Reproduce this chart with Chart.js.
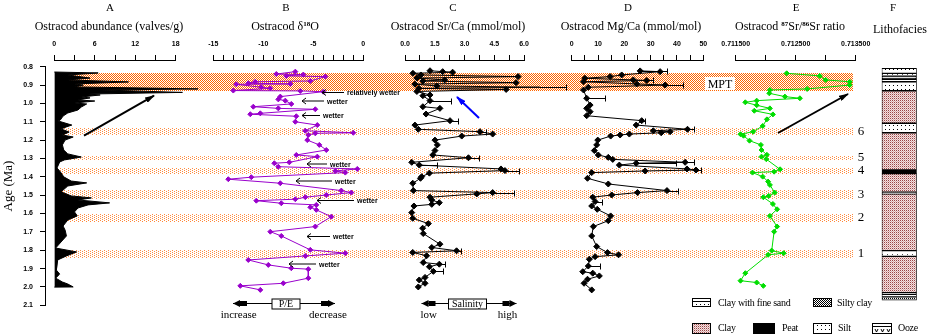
<!DOCTYPE html>
<html>
<head>
<meta charset="utf-8">
<script src="https://cdn.jsdelivr.net/npm/chart.js@4.4.1/dist/chart.umd.min.js"></script>
<style>
html, body { margin: 0; padding: 0; background: #fff; }
#wrap { position: relative; width: 930px; height: 336px; overflow: hidden; font-family: 'Liberation Serif', serif; color: #000; }
#wrap canvas { position: absolute; left: 0; top: 0; }
.t { position: absolute; transform: translateX(-50%); white-space: nowrap; line-height: 12px; }
.t sup { font-size: 7px; line-height: 0; vertical-align: 4px; font-weight: bold; }
#notes { position: absolute; left: 0; top: 0; }
</style>
</head>
<body>
<div id="wrap">
  <canvas id="bg" width="930" height="336"></canvas>
  <canvas id="cA" width="930" height="336"></canvas>
  <canvas id="cB" width="930" height="336"></canvas>
  <canvas id="cC" width="930" height="336"></canvas>
  <canvas id="cD" width="930" height="336"></canvas>
  <canvas id="cE" width="930" height="336"></canvas>
  <canvas id="cF" width="930" height="336"></canvas>

  <div class="t" style="left:110px;top:1px;font-size:11px">A</div>
  <div class="t" style="left:286px;top:1px;font-size:11px">B</div>
  <div class="t" style="left:453px;top:1px;font-size:11px">C</div>
  <div class="t" style="left:628px;top:1px;font-size:11px">D</div>
  <div class="t" style="left:796px;top:1px;font-size:11px">E</div>
  <div class="t" style="left:893px;top:1px;font-size:11px">F</div>

  <div class="t" style="left:109px;top:20px;font-size:12px">Ostracod abundance (valves/g)</div>
  <div class="t" style="left:285px;top:20px;font-size:12px">Ostracod δ<sup>18</sup>O</div>
  <div class="t" style="left:458px;top:20px;font-size:12px">Ostracod Sr/Ca (mmol/mol)</div>
  <div class="t" style="left:631px;top:20px;font-size:12px">Ostracod Mg/Ca (mmol/mol)</div>
  <div class="t" style="left:790px;top:20px;font-size:12px">Ostracod <sup>87</sup>Sr/<sup>86</sup>Sr ratio</div>
  <div class="t" style="left:900px;top:23px;font-size:12px">Lithofacies</div>

  <svg id="notes" width="930" height="336" viewBox="0 0 930 336"></svg>
</div>

<script>
// ---------------- data ----------------
const ageTicks = [0.8, 0.9, 1.0, 1.1, 1.2, 1.3, 1.4, 1.5, 1.6, 1.7, 1.8, 1.9, 2.0, 2.1];

// A: ostracod abundance (valves/g)
const abundAge = [0.829, 0.834, 0.845, 0.862, 0.872, 0.883, 0.894, 0.900, 0.910, 0.921, 0.927, 0.932, 0.940, 0.949, 0.954, 0.965, 0.970, 0.981, 0.987, 0.998,
  1.003, 1.020, 1.036, 1.052, 1.069, 1.090, 1.096, 1.118, 1.128, 1.139, 1.156, 1.172, 1.183, 1.200, 1.226, 1.254, 1.275, 1.292, 1.308, 1.319,
  1.352, 1.373, 1.400, 1.423, 1.433, 1.450, 1.482, 1.504, 1.515, 1.526, 1.542, 1.553, 1.570, 1.591, 1.613, 1.635, 1.668, 1.690, 1.722, 1.755,
  1.788, 1.809, 1.831, 1.853, 1.886, 1.908, 1.930, 1.952, 1.973, 1.984, 2.000, 2.001];
const abundVal = [0, 6.5, 2, 5.3, 2, 11, 3, 4.3, 3, 21.3, 7, 11.7, 19, 5, 6.8, 4, 5.3, 3.5, 6, 3,
  4.8, 4, 3.5, 2, 1.3, 0.9, 0.6, 2.6, 1.8, 1, 2.2, 1.2, 2.8, 1.6, 1.2, 1.4, 2, 4, 1.5, 0.8,
  0.4, 0.9, 1.4, 2.5, 4.8, 2, 1, 2.5, 5.5, 3.5, 8.2, 5, 3.5, 3, 3.4, 2, 1.3, 1.6, 1.8, 1,
  0.2, 3.3, 1.8, 0.5, 0.4, 0.3, 0.8, 0.2, 1.2, 2, 2.8, 0];

// B: ostracod d18O
const d18oAge = [0.827, 0.840, 0.843, 0.850, 0.854, 0.878, 0.882, 0.890, 0.894, 0.896, 0.912, 0.918, 0.930, 0.932, 0.936, 0.963, 0.978, 0.985, 1.003, 1.018,
  1.027, 1.032, 1.054, 1.059, 1.070, 1.100, 1.118, 1.149, 1.160, 1.163, 1.172, 1.200, 1.226, 1.254, 1.281, 1.290, 1.321, 1.326, 1.345, 1.357,
  1.368, 1.377, 1.402, 1.413, 1.435, 1.475, 1.486, 1.499, 1.511, 1.522, 1.530, 1.544, 1.553, 1.566, 1.580, 1.617, 1.671, 1.699, 1.722, 1.798,
  1.816, 1.831, 1.853, 1.880, 1.898, 1.903, 1.952, 1.980, 1.994, 2.016];
const d18oVal = [-6.8, -8.7, -6.0, -7.7, -3.8, -5.3, -10.8, -11.5, -7.3, -12.7, -10.2, -9.3, -13.0, -6.3, -4.0, -8.3, -8.5, -7.8, -7.2, -11.0,
  -8.5, -4.8, -10.3, -11.3, -6.7, -6.8, -4.6, -5.8, -1.0, -4.8, -5.5, -5.6, -4.4, -3.7, -6.7, -4.6, -7.4, -8.9, -8.5, -0.6,
  -2.8, -1.8, -11.2, -13.5, -8.3, -2.2, -1.2, -3.7, -5.8, -6.8, -10.7, -8.2, -4.7, -5.3, -4.7, -3.2, -4.8, -9.3, -8.2, -5.3,
  -1.8, -5.8, -11.5, -9.5, -7.2, -5.5, -5.5, -8.0, -12.3, -10.3];

// C: Sr/Ca (mmol/mol)
const srcaAge = [0.822, 0.827, 0.830, 0.836, 0.845, 0.854, 0.862, 0.872, 0.878, 0.887, 0.895, 0.905, 0.912, 0.918, 0.924, 0.935, 0.954, 0.958, 0.985, 1.018,
  1.027, 1.058, 1.094, 1.118, 1.141, 1.154, 1.167, 1.178, 1.200, 1.226, 1.257, 1.281, 1.296, 1.321, 1.336, 1.357, 1.366, 1.380, 1.399, 1.408,
  1.435, 1.475, 1.486, 1.493, 1.511, 1.526, 1.541, 1.550, 1.559, 1.595, 1.626, 1.655, 1.680, 1.709, 1.767, 1.785, 1.803, 1.812, 1.830, 1.867,
  1.876, 1.890, 1.915, 1.948, 1.962, 1.980, 2.000];
const srcaVal = [1.26, 1.9, 2.4, 0.4, 0.8, 5.7, 0.6, 2.0, 0.9, 5.6, 0.5, 1.6, 6.8, 0.7, 5.1, 0.6, 1.26, 0.9, 1.26, 0.9,
  1.76, 1.06, 2.27, 0.5, 0.67, 3.78, 4.42, 2.86, 1.51, 1.63, 1.51, 1.4, 3.2, 0.34, 0.72, 4.84, 5.04, 1.23, 0.84, 0.78,
  0.39, 0.42, 4.42, 3.62, 1.26, 1.35, 1.73, 1.35, 0.45, 0.34, 0.39, 1.18, 0.89, 0.92, 1.76, 1.35, 2.6, 0.39, 1.09, 0.92,
  1.73, 1.23, 1.43, 1.01, 0.72, 1.01, 0.67];
const srcaErrAt = [0.912, 0.985, 1.094, 1.154, 1.296, 1.336, 1.366, 1.486, 1.803, 1.876, 1.915];
const srcaErrHi = [8.1, 2.3, 2.67, 4.1, 3.75, 1.6, 5.76, 5.5, 2.8, 2.0, 1.9];

// D: Mg/Ca (mmol/mol)
const mgcaAge = [0.823, 0.827, 0.845, 0.854, 0.863, 0.872, 0.875, 0.882, 0.894, 0.900, 0.912, 0.927, 0.972, 1.009, 1.027, 1.045, 1.067, 1.094, 1.118, 1.141,
  1.149, 1.154, 1.160, 1.167, 1.172, 1.178, 1.200, 1.226, 1.257, 1.281, 1.294, 1.305, 1.321, 1.326, 1.336, 1.357, 1.363, 1.368, 1.377, 1.408,
  1.439, 1.475, 1.486, 1.499, 1.511, 1.535, 1.559, 1.577, 1.613, 1.639, 1.671, 1.722, 1.780, 1.813, 1.825, 1.835, 1.849, 1.886, 1.917, 1.925,
  1.940, 1.958, 1.980, 2.016];
const mgcaVal = [26, 33.6, 19, 14.6, 5, 23.4, 28.5, 4.5, 24.7, 35.5, 6.3, 4.5, 5.7, 7, 5.7, 7, 5.7, 26.6, 24.5, 44,
  31, 37.4, 34, 21.9, 18.4, 14.8, 9.9, 9.5, 8.6, 10.1, 13.9, 15.6, 43.1, 24.5, 18.1, 43.8, 47.2, 27.9, 7.6, 6,
  13.9, 36.2, 25, 15.2, 8, 8.9, 7.6, 9.7, 14.8, 13.9, 8.2, 7.6, 9.5, 13.6, 17.8, 8.9, 6.7, 6.3, 4.2, 8,
  10.5, 6, 4.7, 7.6];
const mgcaErrAt = [0.823, 0.875, 0.900, 0.972, 1.094, 1.141, 1.321, 1.326, 1.363, 1.475, 1.535, 1.886];
const mgcaErrHi = [36.2, 31, 42.4, 12.7, 27.9, 46.3, 46.5, 39.7, 49.1, 40.2, 11.4, 10.8];

// E: 87Sr/86Sr
const srAge = [0.836, 0.850, 0.872, 0.882, 0.900, 0.921, 0.927, 0.945, 0.963, 0.972, 0.985, 0.994, 1.010, 1.027, 1.040, 1.060, 1.087, 1.123, 1.154, 1.168,
  1.176, 1.203, 1.226, 1.254, 1.280, 1.290, 1.304, 1.359, 1.372, 1.377, 1.399, 1.426, 1.444, 1.486, 1.504, 1.511, 1.548, 1.577, 1.613, 1.671,
  1.699, 1.802, 1.816, 1.825, 1.925, 1.966, 1.976, 1.994];
const srVal = [0.71235, 0.71290, 0.71300, 0.71340, 0.71340, 0.71269, 0.71207, 0.71206, 0.71232, 0.71257, 0.71185, 0.71166, 0.71185, 0.71207, 0.71181, 0.71212, 0.71202, 0.71195, 0.71179, 0.71158,
  0.71163, 0.71173, 0.71192, 0.71193, 0.71202, 0.71193, 0.71201, 0.71224, 0.71214, 0.71178, 0.71195, 0.71204, 0.71207, 0.71215, 0.71205, 0.71196, 0.71212, 0.71219, 0.71207, 0.71219,
  0.71214, 0.71210, 0.71230, 0.71204, 0.71166, 0.71158, 0.71185, 0.71196];

// highlighted intervals (MPT + wet periods 6..1)
const bandStart = [0.835, 1.132, 1.286, 1.350, 1.471, 1.601, 1.797];
const bandEnd = [0.935, 1.172, 1.311, 1.385, 1.520, 1.647, 1.845];
const bandLabels = ['', '6', '5', '4', '3', '2', '1'];

// F: lithofacies column
const lithoTop = [0.809, 0.836, 0.851, 0.856, 0.863, 0.869, 0.882, 0.931, 1.108, 1.160, 1.363, 1.383, 1.484, 1.493, 1.802, 1.833, 2.031, 2.040, 2.054];
const lithoBase = [0.836, 0.851, 0.856, 0.863, 0.869, 0.882, 0.931, 1.108, 1.160, 1.363, 1.383, 1.484, 1.493, 1.802, 1.833, 2.031, 2.040, 2.054, 2.072];
const lithoType = ['silt', 'sand', 'peat', 'sand', 'peat', 'sand', 'silt', 'clay', 'silt', 'clay', 'peat', 'clay', 'sand', 'clay', 'sand', 'clay', 'sand', 'sand', 'ooze'];

// ---------------- layout ----------------
const W = 930, H = 336;
const PLOT_TOP = 60, PLOT_BOT = 305.3;   // panel axis line / age 2.1
const AGE_AXIS_TOP = 0.7635;             // age at the panel axis line (0.8 sits 6-7px lower)
const AXIS_H = 24;
const tickFont = { family: 'Liberation Sans', size: 7, weight: 'bold' };

Chart.defaults.color = '#000';
Chart.defaults.font.family = 'Liberation Sans';

function makePattern(w, h, draw) {
  const c = document.createElement('canvas');
  c.width = w; c.height = h;
  const g = c.getContext('2d');
  draw(g);
  return g.createPattern(c, 'repeat');
}
const orange = '#ff6600';
const mptPat = makePattern(2, 2, g => { g.fillStyle = '#fff'; g.fillRect(0, 0, 2, 2); g.fillStyle = orange; g.fillRect(0, 0, 1, 1); g.fillRect(1, 1, 1, 1); });
const bandPat = makePattern(4, 2, g => { g.fillStyle = '#ff8a3d'; g.fillRect(0, 0, 1, 1); g.fillRect(2, 1, 1, 1); });
const lithoPat = {
  clay: makePattern(2, 2, g => { g.fillStyle = '#f3e2e2'; g.fillRect(0, 0, 2, 2); g.fillStyle = '#9a4545'; g.fillRect(0, 0, 1, 1); g.fillStyle = '#d7aaaa'; g.fillRect(1, 1, 1, 1); }),
  silt: makePattern(4, 4, g => { g.fillStyle = '#fff'; g.fillRect(0, 0, 4, 4); g.fillStyle = '#000'; g.fillRect(1, 1, 1, 1); }),
  sand: makePattern(5, 4, g => { g.fillStyle = '#fff'; g.fillRect(0, 0, 5, 4); g.fillStyle = '#555'; g.fillRect(2, 2, 1, 1); }),
  peat: '#000',
  ooze: makePattern(2, 2, g => { g.fillStyle = '#fff'; g.fillRect(0, 0, 2, 2); g.fillStyle = '#000'; g.fillRect(0, 0, 1, 1); })
};

function xAxis(min, max, step, labelEvery, fmt) {
  const vals = [];
  const n = Math.round((max - min) / step);
  for (let i = 0; i <= n; i++) vals.push(min + i * step);
  return {
    type: 'linear', position: 'top', min, max,
    afterBuildTicks: s => { s.ticks = vals.map(v => ({ value: v })); },
    afterFit: s => { s.height = AXIS_H; },
    grid: { drawOnChartArea: false, tickLength: 5, color: '#000', lineWidth: 1 },
    border: { color: '#000', width: 1 },
    ticks: { font: tickFont, color: '#000', padding: 7, maxRotation: 0, autoSkip: false,
      callback: (v, i) => (i % labelEvery === 0 ? fmt(v) : '') }
  };
}

function errPlugin(ages, vals, atAges, hi) {
  return {
    id: 'errbars',
    afterDatasetsDraw(chart) {
      const { ctx, scales: { x, y } } = chart;
      ctx.save();
      ctx.strokeStyle = '#000';
      ctx.lineWidth = 1;
      atAges.forEach((a, k) => {
        const i = ages.indexOf(a);
        if (i < 0) return;
        const py = Math.round(y.getPixelForValue(a)) + 0.5;
        const x0 = x.getPixelForValue(vals[i]);
        const x1 = Math.round(x.getPixelForValue(hi[k])) + 0.5;
        ctx.beginPath();
        ctx.moveTo(x0, py); ctx.lineTo(x1, py);
        ctx.moveTo(x1, py - 3); ctx.lineTo(x1, py + 3);
        ctx.stroke();
      });
      ctx.restore();
    }
  };
}

function panel(id, x0, x1, xScale, datasets, opts) {
  opts = opts || {};
  return new Chart(document.getElementById(id), {
    type: opts.type || 'scatter',
    data: { datasets },
    options: {
      responsive: false,
      animation: false,
      indexAxis: opts.indexAxis || 'x',
      layout: { padding: { left: x0, right: W - x1, top: PLOT_TOP - AXIS_H, bottom: H - PLOT_BOT } },
      plugins: { legend: { display: false }, tooltip: { enabled: false } },
      scales: {
        x: xScale,
        y: { type: 'linear', min: AGE_AXIS_TOP, max: 2.1, reverse: true, display: false }
      }
    },
    plugins: opts.plugins || []
  });
}

const pts = (ages, vals) => ages.map((a, i) => ({ x: vals[i], y: a }));

// ---------------- background: age axis + highlighted bands ----------------
const bandPlugin = {
  id: 'bands',
  beforeDatasetsDraw(chart) {
    const { ctx, scales: { x, y } } = chart;
    ctx.save();
    bandStart.forEach((a, i) => {
      const top = Math.round(y.getPixelForValue(a));
      const bot = Math.round(y.getPixelForValue(bandEnd[i]));
      const left = Math.round(x.getPixelForValue(57));
      const right = Math.round(x.getPixelForValue(853));
      ctx.fillStyle = i === 0 ? mptPat : bandPat;
      ctx.fillRect(left, top, right - left, bot - top);
      if (bandLabels[i]) {
        ctx.fillStyle = '#000';
        ctx.font = '13px "Liberation Serif"';
        ctx.textAlign = 'center';
        ctx.textBaseline = 'middle';
        ctx.fillText(bandLabels[i], x.getPixelForValue(861), (top + bot) / 2);
      }
    });
    ctx.restore();
  }
};

new Chart(document.getElementById('bg'), {
  type: 'scatter',
  data: { datasets: [] },
  options: {
    responsive: false,
    animation: false,
    layout: { padding: { left: 0, right: 0, top: 66.7, bottom: H - PLOT_BOT } },
    plugins: { legend: { display: false }, tooltip: { enabled: false } },
    scales: {
      x: { type: 'linear', min: 45, max: W, display: false },
      y: {
        type: 'linear', min: 0.8, max: 2.1, reverse: true, position: 'left',
        afterBuildTicks: s => { s.ticks = ageTicks.map(v => ({ value: v })); },
        afterFit: s => { s.width = 45; },
        grid: { drawOnChartArea: false, tickLength: 5, color: '#000' },
        border: { color: '#000' },
        ticks: { font: tickFont, color: '#000', padding: 7, callback: v => v.toFixed(1) },
        title: { display: true, text: 'Age (Ma)', color: '#000', font: { family: 'Liberation Serif', size: 13 }, padding: { top: 1, bottom: 0 } }
      }
    }
  },
  plugins: [bandPlugin]
});

// ---------------- panels ----------------
panel('cA', 54.3, 175.7, xAxis(0, 18, 3, 2, v => String(v)), [{
  data: pts(abundAge, abundVal),
  borderColor: '#000', backgroundColor: '#000', borderWidth: 1,
  fill: 'origin', pointRadius: 0, tension: 0, clip: false
}], { type: 'line', indexAxis: 'y' });

panel('cB', 213.3, 363.3, xAxis(-15, 0, 1, 5, v => String(v)), [{
  data: pts(d18oAge, d18oVal), showLine: true,
  borderColor: '#9900cc', backgroundColor: '#9900cc', borderWidth: 1,
  pointStyle: 'rectRot', pointRadius: 2.5, clip: false
}]);

panel('cC', 405, 524, xAxis(0, 6, 0.75, 2, v => v.toFixed(1)), [{
  data: pts(srcaAge, srcaVal), showLine: true,
  borderColor: '#000', backgroundColor: '#000', borderWidth: 1,
  pointStyle: 'rectRot', pointRadius: 3, clip: false
}], { plugins: [errPlugin(srcaAge, srcaVal, srcaErrAt, srcaErrHi)] });

panel('cD', 571.7, 703.3, xAxis(0, 50, 5, 2, v => String(Math.round(v))), [{
  data: pts(mgcaAge, mgcaVal), showLine: true,
  borderColor: '#000', backgroundColor: '#000', borderWidth: 1,
  pointStyle: 'rectRot', pointRadius: 3, clip: false
}], { plugins: [errPlugin(mgcaAge, mgcaVal, mgcaErrAt, mgcaErrHi)] });

panel('cE', 735.7, 855.7, xAxis(0.7115, 0.7135, 0.0005, 2, v => v.toFixed(6)), [{
  data: pts(srAge, srVal), showLine: true,
  borderColor: '#00dd00', backgroundColor: '#00dd00', borderWidth: 1,
  pointStyle: 'rectRot', pointRadius: 2.5, clip: false
}]);

// lithofacies column as floating bars
new Chart(document.getElementById('cF'), {
  type: 'bar',
  data: {
    labels: ['F'],
    datasets: lithoTop.map((t, i) => ({
      data: [[t, lithoBase[i]]],
      backgroundColor: lithoPat[lithoType[i]],
      borderColor: '#000', borderWidth: 1, borderSkipped: false,
      grouped: false, barPercentage: 1, categoryPercentage: 1
    }))
  },
  options: {
    responsive: false,
    animation: false,
    layout: { padding: { left: 881.7, right: W - 916.7, top: 66.7, bottom: H - PLOT_BOT } },
    plugins: { legend: { display: false }, tooltip: { enabled: false } },
    scales: {
      x: { type: 'category', display: false },
      y: { type: 'linear', min: 0.8, max: 2.1, reverse: true, display: false }
    }
  }
});

// ---------------- annotations ----------------
const wetNotes = [
  { y: 92.5, head: 322, text: 347, label: 'relatively wetter' },
  { y: 101, head: 302, text: 327, label: 'wetter' },
  { y: 115.5, head: 302, text: 323, label: 'wetter' },
  { y: 164, head: 307, text: 330, label: 'wetter' },
  { y: 181, head: 296, text: 335, label: 'wetter' },
  { y: 200.5, head: 317, text: 357, label: 'wetter' },
  { y: 236.5, head: 307, text: 333, label: 'wetter' },
  { y: 264, head: 289, text: 319, label: 'wetter' }
];

function indicator(x0, x1, bx0, bx1, y, label) {
  let s = `<line x1="${x0}" y1="${y}" x2="${bx0}" y2="${y}" stroke="#000"/>`;
  s += `<line x1="${bx1}" y1="${y}" x2="${x1}" y2="${y}" stroke="#000"/>`;
  s += `<polygon points="${x0},${y} ${x0 + 7},${y - 3.5} ${x0 + 7},${y + 3.5}"/>`;
  s += `<rect x="${x0 + 7}" y="${y - 2.5}" width="7" height="5"/>`;
  s += `<polygon points="${x1},${y} ${x1 - 7},${y - 3.5} ${x1 - 7},${y + 3.5}"/>`;
  s += `<rect x="${x1 - 14}" y="${y - 2.5}" width="7" height="5"/>`;
  s += `<rect x="${bx0}" y="${y - 4.5}" width="${bx1 - bx0}" height="10" fill="#fff" stroke="#000"/>`;
  s += `<text x="${(bx0 + bx1) / 2}" y="${y + 3.5}" text-anchor="middle" font-size="10">${label}</text>`;
  return s;
}

let svg = `
<defs>
  <marker id="ahK" markerWidth="10" markerHeight="6" refX="9" refY="3" orient="auto" markerUnits="userSpaceOnUse"><path d="M0,0 L10,3 L0,6 z" fill="#000"/></marker>
  <marker id="ahB" markerWidth="10" markerHeight="6" refX="9" refY="3" orient="auto" markerUnits="userSpaceOnUse"><path d="M0,0 L10,3 L0,6 z" fill="#0000ff"/></marker>
  <pattern id="pClay" width="2" height="2" patternUnits="userSpaceOnUse"><rect width="2" height="2" fill="#f3e2e2"/><rect width="1" height="1" fill="#9a4545"/><rect x="1" y="1" width="1" height="1" fill="#d7aaaa"/></pattern>
  <pattern id="pSilt" width="4" height="4" patternUnits="userSpaceOnUse"><rect width="4" height="4" fill="#fff"/><rect x="1" y="1" width="1" height="1" fill="#000"/></pattern>
  <pattern id="pSC" width="2" height="2" patternUnits="userSpaceOnUse"><rect width="2" height="2" fill="#fff"/><rect width="1" height="1" fill="#000"/><rect x="1" y="1" width="1" height="1" fill="#000"/></pattern>
</defs>
<line x1="84" y1="135.7" x2="154" y2="95.7" stroke="#000" stroke-width="2" marker-end="url(#ahK)"/>
<line x1="778" y1="133" x2="848" y2="94" stroke="#000" stroke-width="2" marker-end="url(#ahK)"/>
<line x1="479" y1="118" x2="457" y2="97" stroke="#0000ff" stroke-width="2" marker-end="url(#ahB)"/>
<rect x="705" y="77" width="30" height="13" fill="#fff"/>
<text x="720" y="87.5" text-anchor="middle" font-size="12">MPT</text>
`;

wetNotes.forEach(n => {
  svg += `<path d="M${n.head + 4},${n.y - 3} L${n.head},${n.y} L${n.head + 4},${n.y + 3} M${n.head},${n.y} L${n.text - 3},${n.y}" stroke="#000" fill="none"/>`;
  svg += `<text x="${n.text}" y="${n.y + 2.5}" font-family="Liberation Sans" font-weight="bold" font-size="7">${n.label}</text>`;
});

svg += indicator(233, 335, 272, 300, 303.5, 'P/E');
svg += indicator(421.5, 516.5, 448.5, 486.5, 303.5, 'Salinity');
svg += `<g font-size="11" text-anchor="middle">
  <text x="238.7" y="318">increase</text><text x="328" y="318">decrease</text>
  <text x="428.7" y="318">low</text><text x="507.5" y="318">high</text></g>`;

// lithology legend
svg += `<g stroke="#000" stroke-width="1" shape-rendering="crispEdges">
  <rect x="692.5" y="298.5" width="18" height="8" fill="#fff"/>
  <line x1="692.5" y1="301.5" x2="710.5" y2="301.5"/>
  <rect x="813.5" y="298.5" width="18" height="8" fill="url(#pSC)"/>
  <rect x="692.5" y="323.5" width="18" height="10" fill="url(#pClay)"/>
  <rect x="753.5" y="323.5" width="21" height="10" fill="#000"/>
  <rect x="813.5" y="323.5" width="18" height="10" fill="url(#pSilt)"/>
  <rect x="872.5" y="323.5" width="19" height="10" fill="#fff"/>
  <line x1="872.5" y1="326.5" x2="891.5" y2="326.5"/>
</g>
<g fill="#000">
  <rect x="696" y="304" width="1" height="1"/><rect x="700" y="304" width="1" height="1"/><rect x="704" y="304" width="1" height="1"/><rect x="708" y="304" width="1" height="1"/>
</g>
<path d="M875,329 l1.5,3 l1.5,-3 M881,329 l1.5,3 l1.5,-3 M887,329 l1.5,3 l1.5,-3" stroke="#000" fill="none"/>
<g font-size="10" letter-spacing="-0.3">
  <text x="718" y="306">Clay with fine sand</text>
  <text x="837" y="306">Silty clay</text>
  <text x="718" y="331">Clay</text>
  <text x="782" y="331">Peat</text>
  <text x="838" y="331">Silt</text>
  <text x="898" y="331">Ooze</text>
</g>`;

document.getElementById('notes').innerHTML = svg;
</script>
</body>
</html>
